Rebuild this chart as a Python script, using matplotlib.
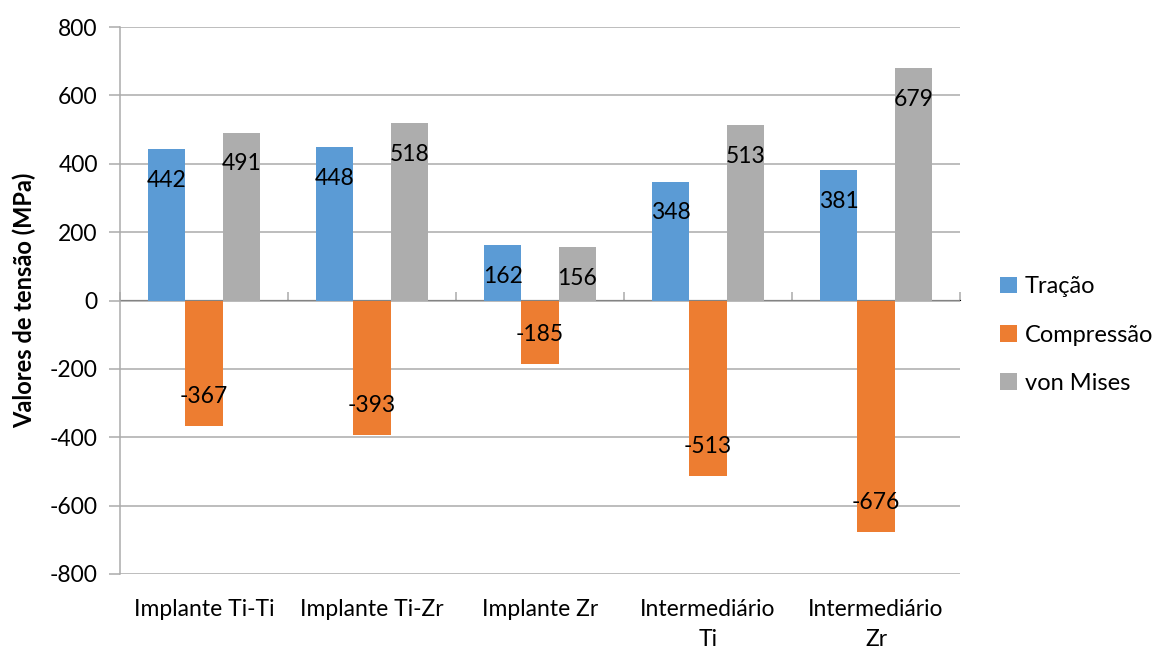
import matplotlib
matplotlib.use("Agg")
import matplotlib.pyplot as plt
import numpy as np

plt.rcParams['font.family'] = ['Lato', 'DejaVu Sans']

categories = ["Implante Ti-Ti", "Implante Ti-Zr", "Implante Zr", "Intermediário\nTi", "Intermediário\nZr"]
series_names = ["Tração", "Compressão", "von Mises"]
tracao = [442, 448, 162, 348, 381]
compressao = [-367, -393, -185, -513, -676]
von_mises = [491, 518, 156, 513, 679]
series_values = [tracao, compressao, von_mises]
colors = ["#5B9BD5", "#ED7D31", "#ADADAD"]
y_ticks = [800, 600, 400, 200, 0, -200, -400, -600, -800]

grid_c = "#ABABAB"
fs = 16.5

fig = plt.figure(figsize=(11.57, 6.52), dpi=100)
ax = fig.add_axes([120/1157, 1-574/652, 840/1157, 547/652])

n = len(categories)
x = np.arange(n)
bw = 1 / (3 + 1.5)
offsets = (np.arange(3) - 1) * bw

for vals, name, col, off in zip(series_values, series_names, colors, offsets):
    bars = ax.bar(x + off, vals, width=bw, color=col, label=name, zorder=3)
    for b, v in zip(bars, vals):
        dy = -31 if v >= 0 else 29
        ax.annotate(str(v), xy=(b.get_x() + b.get_width()/2, v), xytext=(0, dy),
                    textcoords="offset pixels", ha="center", va="center",
                    fontsize=fs, color="black", zorder=4)

ax.set_xlim(-0.5, n - 0.5)
ax.set_ylim(-800, 800)
ax.set_yticks(y_ticks)
ax.set_yticklabels([str(t) for t in y_ticks])
ax.yaxis.grid(True, color=grid_c, linewidth=1.1, zorder=0)
ax.set_axisbelow(True)

for s in ["top", "right", "bottom"]:
    ax.spines[s].set_visible(False)
ax.spines["left"].set_color(grid_c)
ax.spines["left"].set_linewidth(1.1)
ax.tick_params(axis="y", length=8, width=1.1, color=grid_c, labelsize=fs, pad=8)

# category labels along the bottom
ax.set_xticks(x)
ax.set_xticklabels(categories, fontsize=fs, linespacing=1.5)
ax.tick_params(axis="x", length=0, pad=18)

# zero line with boundary ticks between categories
sec = ax.secondary_xaxis(0.5)
sec.set_xticks(np.arange(n + 1) - 0.5)
sec.set_xticklabels([])
sec.tick_params(axis="x", length=6, width=1.1, color=grid_c, direction="out")
sec.spines["bottom"].set_color(grid_c)
sec.spines["bottom"].set_linewidth(1.1)

ax.set_ylabel("Valores de tensão (MPa)", fontsize=17, fontweight="bold", labelpad=10)

leg = fig.legend(loc="center left", bbox_to_anchor=(1000/1157, 1-335/652), frameon=False,
                 fontsize=17, handlelength=0.7, handleheight=0.7, handletextpad=0.35,
                 labelspacing=1.15, borderpad=0, borderaxespad=0)

fig.savefig("out.png", dpi=100)
